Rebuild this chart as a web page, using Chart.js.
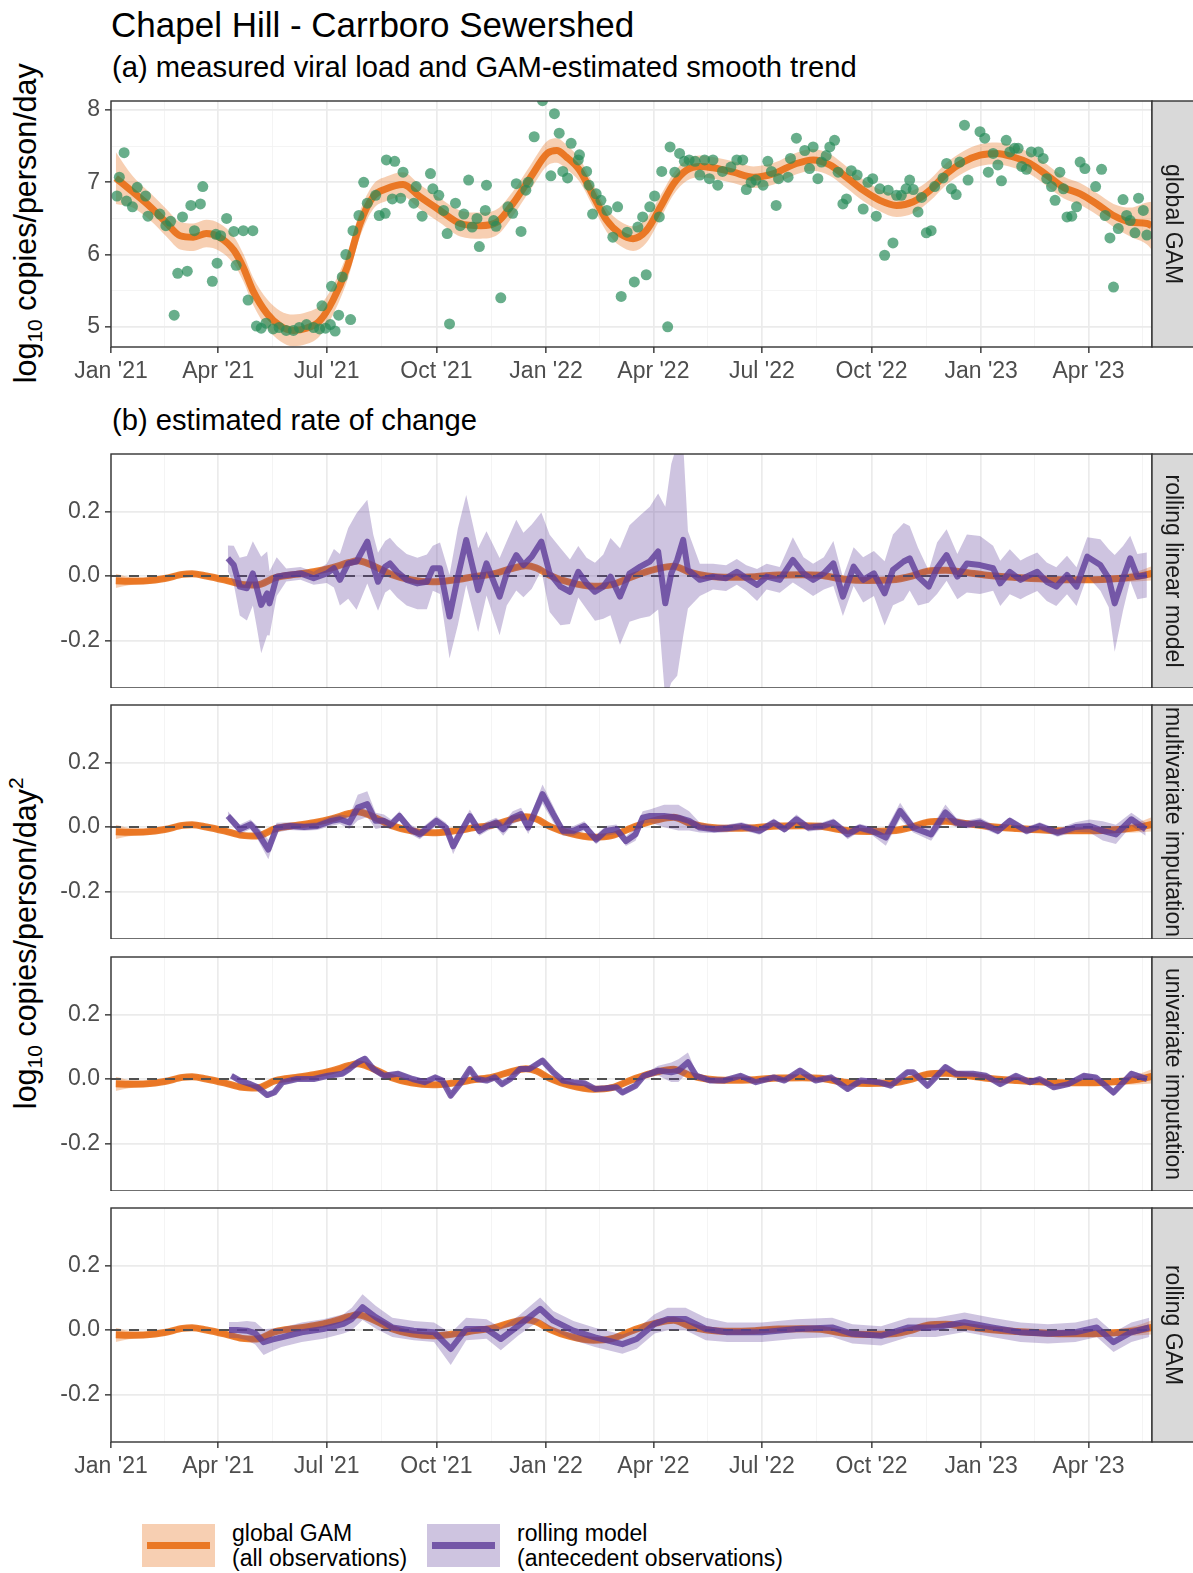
<!DOCTYPE html>
<html>
<head>
<meta charset="utf-8">
<title>Chapel Hill - Carrboro Sewershed</title>
<script src="https://cdn.jsdelivr.net/npm/chart.js@4.4.1/dist/chart.umd.min.js"></script>
<style>
  body { margin: 0; background: #fff; width: 1193px; height: 1573px; position: relative; overflow: hidden;
         font-family: "Liberation Sans", Arial, Helvetica, sans-serif; }
  canvas { position: absolute; left: 0; }
  .t { position: absolute; white-space: nowrap; line-height: 1; color: #000; }
  .yt { position: absolute; width: 600px; text-align: center; white-space: nowrap; line-height: 1;
        font-size: 30.5px; color: #000; transform: rotate(-90deg); transform-origin: 50% 50%; }
  .yt sub { font-size: 21px; vertical-align: -6px; line-height: 0; }
  .yt sup { font-size: 21px; vertical-align: 13px; line-height: 0; }
  .key { position: absolute; width: 73px; height: 43px; }
  .key div { position: absolute; left: 5px; right: 5px; top: 18px; height: 7px; }
  .lt { position: absolute; font-size: 23px; line-height: 25px; color: #000; white-space: nowrap; }
</style>
</head>
<body>

<div class="t" style="left:111px;top:7px;font-size:35px">Chapel Hill - Carrboro Sewershed</div>
<div class="t" style="left:112px;top:53px;font-size:29.2px">(a) measured viral load and GAM-estimated smooth trend</div>
<div class="t" style="left:112px;top:406px;font-size:29.2px">(b) estimated rate of change</div>

<div class="yt" style="left:-275px;top:208px">log<sub>10</sub> copies/person/day</div>
<div class="yt" style="left:-275px;top:928px">log<sub>10</sub> copies/person/day<sup>2</sup></div>

<canvas id="panelA" width="1193" height="300" style="top:91px"></canvas>
<canvas id="panelB1" width="1193" height="244" style="top:444px"></canvas>
<canvas id="panelB2" width="1193" height="244" style="top:695px"></canvas>
<canvas id="panelB3" width="1193" height="244" style="top:947px"></canvas>
<canvas id="panelB4" width="1193" height="288" style="top:1198px"></canvas>

<div class="key" style="left:142px;top:1524px;background:rgba(230,97,1,0.3)"><div style="background:rgba(230,97,1,0.8)"></div></div>
<div class="lt" style="left:232px;top:1521px">global GAM<br>(all observations)</div>
<div class="key" style="left:427px;top:1524px;background:rgba(94,60,153,0.3)"><div style="background:rgba(94,60,153,0.8)"></div></div>
<div class="lt" style="left:517px;top:1521px">rolling model<br>(antecedent observations)</div>

<script>
// days are counted from 2021-01-01

// measured viral load, log10 copies/person/day
const obsDay = [5, 7, 11, 13, 18, 22, 29, 31, 41, 46, 50, 53, 56, 60, 64, 67, 70, 75, 77, 85,
  88, 89, 92, 97, 103, 105, 111, 115, 119, 122, 126, 130, 136, 141, 147, 153, 158, 164, 170, 175,
  177, 180, 184, 185, 188, 191, 194, 197, 201, 203, 208, 212, 215, 222, 225, 230, 231, 236, 238, 243,
  245, 254, 256, 261, 268, 270, 275, 279, 282, 284, 289, 293, 296, 300, 303, 307, 309, 314, 315, 321,
  323, 327, 333, 337, 340, 344, 348, 350, 355, 362, 369, 372, 376, 379, 383, 386, 392, 393, 399, 401,
  404, 407, 411, 416, 421, 425, 428, 433, 439, 442, 446, 449, 452, 456, 460, 462, 467, 469, 473, 477,
  481, 485, 490, 494, 498, 502, 505, 509, 513, 520, 525, 530, 533, 537, 541, 547, 551, 554, 558, 560,
  568, 570, 575, 582, 586, 589, 593, 596, 600, 603, 607, 610, 614, 617, 621, 626, 631, 635, 639, 642,
  645, 649, 652, 656, 659, 663, 667, 670, 673, 677, 680, 684, 688, 691, 698, 701, 705, 709, 712, 716,
  719, 729, 733, 736, 740, 744, 747, 751, 754, 758, 761, 764, 768, 772, 778, 782, 785, 789, 792, 796,
  799, 802, 806, 810, 813, 817, 826, 831, 834, 838, 841, 845, 849, 852, 855, 859, 862, 866, 869];
const obsLoad = [6.81, 7.07, 7.41, 6.74, 6.66, 6.93, 6.81, 6.53, 6.56, 6.40, 6.46, 5.16, 5.74, 6.52, 5.77, 6.68, 6.33, 6.70, 6.94, 5.63,
  6.28, 5.88, 6.26, 6.50, 6.32, 5.85, 6.33, 5.37, 6.33, 5.01, 4.98, 5.05, 4.97, 4.99, 4.95, 4.95, 4.99, 5.03, 4.99, 4.97,
  5.29, 4.98, 5.03, 5.56, 4.94, 5.16, 5.69, 6.00, 5.10, 6.33, 6.54, 7.00, 6.71, 6.82, 6.54, 6.57, 7.31, 6.77, 7.29, 6.78,
  7.14, 6.71, 6.94, 6.53, 7.12, 6.91, 6.82, 6.61, 6.29, 5.04, 6.71, 6.40, 6.56, 7.03, 6.38, 6.50, 6.11, 6.61, 6.96, 6.47,
  6.39, 5.40, 6.66, 6.57, 6.98, 6.32, 6.89, 7.00, 7.63, 8.13, 7.09, 7.95, 7.68, 7.15, 7.06, 7.54, 7.31, 7.38, 7.15, 6.96,
  6.56, 6.84, 6.75, 6.61, 6.24, 6.66, 5.42, 6.31, 5.62, 6.38, 6.52, 5.72, 6.66, 6.81, 6.52, 7.15, 5.00, 7.49, 7.14, 7.40,
  7.29, 7.31, 7.29, 7.10, 7.31, 7.05, 7.31, 6.96, 7.15, 7.21, 7.31, 7.31, 6.90, 7.00, 7.03, 6.96, 7.29, 7.15, 6.68, 7.05,
  7.07, 7.33, 7.61, 7.44, 7.19, 7.49, 7.05, 7.28, 7.37, 7.49, 7.58, 7.14, 6.70, 6.77, 7.16, 7.10, 6.63, 7.00, 7.05, 6.53,
  6.91, 5.99, 6.89, 6.16, 6.82, 6.82, 6.91, 7.03, 6.90, 6.59, 6.79, 6.30, 6.33, 6.94, 7.06, 7.26, 6.91, 6.83, 7.28, 7.79,
  7.03, 7.70, 7.61, 7.14, 7.40, 7.24, 7.02, 7.58, 7.42, 7.47, 7.47, 7.22, 7.18, 7.42, 7.42, 7.33, 7.05, 6.94, 6.75, 7.14,
  6.91, 6.52, 6.53, 6.66, 7.28, 7.19, 6.94, 7.18, 6.54, 6.23, 5.55, 6.36, 6.76, 6.54, 6.47, 6.30, 6.78, 6.61, 6.27];

// global GAM fit and its standard error band
const gamDay = [4, 18, 33, 47, 58, 69, 80, 91, 103, 111, 119, 131, 142, 153, 164, 175, 186, 198, 209, 220,
  231, 245, 259, 276, 293, 310, 324, 337, 352, 366, 374, 382, 393, 405, 416, 427, 438, 449, 461, 472,
  483, 494, 505, 522, 539, 556, 575, 589, 603, 617, 631, 645, 659, 673, 687, 701, 715, 729, 743, 757,
  771, 785, 799, 813, 827, 841, 855, 869, 873];
const gamFit = [7.06, 6.87, 6.66, 6.43, 6.26, 6.24, 6.29, 6.24, 6.06, 5.82, 5.50, 5.18, 5.01, 4.95, 4.98, 5.08, 5.36, 5.82, 6.43, 6.80,
  6.91, 6.97, 6.80, 6.61, 6.43, 6.40, 6.45, 6.70, 7.07, 7.40, 7.44, 7.35, 7.17, 6.80, 6.47, 6.29, 6.22, 6.33, 6.66, 6.98,
  7.17, 7.22, 7.20, 7.14, 7.07, 7.12, 7.26, 7.31, 7.24, 7.07, 6.89, 6.75, 6.68, 6.73, 6.89, 7.12, 7.28, 7.375, 7.40, 7.35,
  7.26, 7.10, 6.93, 6.84, 6.70, 6.54, 6.45, 6.43, 6.40];
const gamSe = [0.36, 0.22, 0.19, 0.19, 0.19, 0.19, 0.19, 0.19, 0.19, 0.19, 0.19, 0.20, 0.21, 0.22, 0.22, 0.21, 0.20, 0.19, 0.18, 0.17,
  0.17, 0.17, 0.17, 0.17, 0.18, 0.18, 0.18, 0.17, 0.17, 0.17, 0.17, 0.17, 0.16, 0.16, 0.16, 0.17, 0.17, 0.17, 0.16, 0.15,
  0.15, 0.15, 0.15, 0.15, 0.15, 0.15, 0.15, 0.15, 0.15, 0.15, 0.15, 0.15, 0.16, 0.16, 0.15, 0.15, 0.15, 0.15, 0.15, 0.15,
  0.15, 0.15, 0.15, 0.15, 0.15, 0.16, 0.20, 0.29, 0.33];

// first derivative of the global GAM
const gamRateDay = [4, 15, 30, 45, 60, 68, 80, 95, 110, 122, 138, 155, 170, 185, 200, 207, 218, 235, 252, 270,
  288, 305, 320, 335, 348, 357, 368, 385, 405, 420, 440, 458, 472, 485, 500, 520, 540, 560, 580, 595,
  615, 635, 655, 672, 685, 700, 715, 735, 760, 790, 820, 845, 860, 873];
const gamRate = [-0.015, -0.016, -0.015, -0.008, 0.005, 0.007, 0.0, -0.012, -0.026, -0.028, -0.005, 0.005, 0.013, 0.025, 0.042, 0.047, 0.035, 0.005, -0.012, -0.018,
  -0.012, -0.002, 0.006, 0.022, 0.032, 0.025, 0.002, -0.020, -0.032, -0.027, 0.002, 0.022, 0.030, 0.012, 0.0, -0.004, -0.002, 0.003, 0.004, 0.002,
  -0.010, -0.014, -0.012, 0.0, 0.015, 0.018, 0.012, 0.002, -0.005, -0.011, -0.012, -0.008, -0.002, 0.008];
const gamRateSe = [0.022, 0.013, 0.009, 0.008, 0.008, 0.008, 0.008, 0.008, 0.008, 0.008, 0.008, 0.008, 0.008, 0.008, 0.008, 0.008, 0.008, 0.008, 0.008, 0.008,
  0.008, 0.008, 0.008, 0.008, 0.008, 0.008, 0.008, 0.008, 0.008, 0.008, 0.008, 0.008, 0.008, 0.008, 0.008, 0.008, 0.008, 0.008, 0.008, 0.008,
  0.008, 0.008, 0.008, 0.008, 0.008, 0.008, 0.008, 0.008, 0.008, 0.008, 0.009, 0.011, 0.015, 0.022];

// rolling linear model
const rollLmDay = [98, 103, 108, 114, 119, 122, 126, 131, 133, 139, 147, 159, 170, 181, 187, 192, 199, 206, 215, 220,
  224, 230, 234, 240, 248, 257, 265, 270, 276, 284, 291, 298, 308, 315, 326, 332, 340, 346, 353, 361,
  368, 377, 385, 392, 399, 406, 413, 419, 427, 435, 444, 452, 459, 465, 470, 475, 480, 484, 494, 505,
  516, 525, 533, 542, 550, 561, 572, 581, 589, 598, 606, 614, 623, 631, 640, 649, 656, 665, 670, 677,
  686, 693, 701, 710, 718, 729, 740, 746, 754, 763, 768, 777, 785, 793, 802, 810, 819, 830, 837, 842,
  849, 855, 861, 869];
const rollLmRate = [0.055, 0.034, -0.033, -0.038, 0.008, -0.033, -0.090, -0.054, -0.085, -0.002, 0.003, 0.008, -0.007, 0.008, 0.024, -0.012, 0.039, 0.045, 0.107, 0.029,
  -0.018, 0.029, 0.039, 0.013, -0.012, -0.023, -0.018, 0.024, 0.024, -0.126, -0.002, 0.112, -0.044, 0.039, -0.064, 0.008, 0.065, 0.034, 0.060, 0.107,
  0.008, -0.033, -0.049, 0.013, -0.023, -0.049, -0.033, -0.002, -0.064, 0.008, 0.029, 0.045, 0.076, -0.085, 0.008, 0.050, 0.112, 0.019, -0.012, -0.002,
  -0.007, 0.013, -0.007, -0.028, -0.002, -0.012, 0.050, 0.008, -0.012, 0.008, 0.039, -0.064, 0.029, -0.012, 0.008, -0.054, 0.019, 0.045, 0.055, -0.002,
  -0.033, 0.024, 0.065, -0.002, 0.039, 0.034, 0.024, -0.023, 0.013, -0.012, -0.002, 0.013, -0.018, -0.033, 0.003, -0.033, 0.060, 0.034, -0.007, -0.085,
  -0.007, 0.055, -0.002, 0.003];
const rollLmSe = [0.04, 0.06, 0.09, 0.10, 0.10, 0.12, 0.15, 0.13, 0.10, 0.06, 0.02, 0.02, 0.02, 0.03, 0.06, 0.08, 0.11, 0.15, 0.13, 0.10,
  0.09, 0.08, 0.08, 0.08, 0.08, 0.08, 0.085, 0.07, 0.08, 0.13, 0.15, 0.14, 0.13, 0.10, 0.12, 0.10, 0.11, 0.10, 0.10, 0.09,
  0.12, 0.12, 0.10, 0.08, 0.08, 0.09, 0.10, 0.12, 0.15, 0.15, 0.16, 0.17, 0.18, 0.30, 0.34, 0.36, 0.30, 0.12, 0.05, 0.04,
  0.04, 0.04, 0.04, 0.05, 0.04, 0.04, 0.07, 0.05, 0.05, 0.05, 0.07, 0.06, 0.06, 0.07, 0.07, 0.10, 0.11, 0.12, 0.10, 0.09,
  0.05, 0.08, 0.08, 0.07, 0.09, 0.09, 0.07, 0.07, 0.07, 0.06, 0.06, 0.06, 0.06, 0.06, 0.06, 0.06, 0.06, 0.08, 0.09, 0.15,
  0.10, 0.07, 0.07, 0.07];

// multivariate imputation
const multiImpDay = [98, 103, 108, 117, 123, 132, 139, 150, 162, 173, 185, 192, 200, 207, 215, 222, 229, 235, 242, 251,
  259, 266, 273, 281, 287, 294, 301, 309, 316, 323, 329, 337, 344, 350, 362, 371, 379, 388, 397, 407,
  415, 424, 432, 440, 446, 452, 464, 476, 485, 494, 506, 517, 529, 544, 556, 565, 575, 585, 597, 606,
  618, 628, 638, 650, 662, 673, 688, 700, 709, 718, 729, 744, 754, 768, 779, 794, 809, 821, 832, 843,
  856, 868];
const multiImpRate = [0.034, 0.014, -0.007, 0.008, -0.018, -0.070, -0.002, 0.003, 0.0, 0.003, 0.019, 0.024, 0.014, 0.060, 0.071, 0.019, 0.019, 0.008, 0.034, -0.007,
  -0.023, -0.002, 0.019, -0.002, -0.060, -0.012, 0.034, -0.012, 0.003, 0.014, -0.007, 0.029, 0.040, -0.002, 0.102, 0.040, -0.012, -0.012, 0.003, -0.039,
  -0.012, -0.007, -0.044, -0.023, 0.029, 0.034, 0.034, 0.029, 0.019, -0.002, -0.007, -0.004, 0.003, -0.012, 0.014, -0.007, 0.024, -0.002, 0.003, 0.014,
  -0.023, -0.002, -0.012, -0.033, 0.050, -0.002, -0.023, 0.045, 0.014, 0.008, 0.014, -0.012, 0.019, -0.012, 0.003, -0.018, 0.0, 0.003, -0.012, -0.023,
  0.024, -0.007];
const multiImpSe = [0.015, 0.015, 0.015, 0.015, 0.02, 0.03, 0.015, 0.012, 0.012, 0.012, 0.015, 0.015, 0.02, 0.04, 0.04, 0.025, 0.02, 0.015, 0.015, 0.015,
  0.015, 0.015, 0.015, 0.015, 0.025, 0.015, 0.02, 0.015, 0.015, 0.015, 0.02, 0.02, 0.02, 0.02, 0.03, 0.025, 0.015, 0.015, 0.015, 0.015,
  0.015, 0.015, 0.015, 0.02, 0.02, 0.02, 0.035, 0.04, 0.03, 0.015, 0.012, 0.012, 0.012, 0.012, 0.012, 0.012, 0.015, 0.012, 0.012, 0.012,
  0.015, 0.012, 0.012, 0.025, 0.025, 0.015, 0.02, 0.025, 0.015, 0.012, 0.015, 0.012, 0.012, 0.012, 0.012, 0.012, 0.015, 0.02, 0.03, 0.03,
  0.02, 0.02];

// univariate imputation
const uniImpDay = [101, 108, 117, 123, 131, 137, 144, 156, 170, 182, 194, 200, 207, 213, 220, 229, 241, 253, 263, 272,
  278, 285, 294, 301, 307, 315, 322, 328, 335, 343, 351, 362, 371, 379, 388, 397, 406, 415, 424, 429,
  440, 447, 452, 459, 470, 476, 484, 491, 503, 514, 528, 541, 556, 565, 578, 591, 604, 618, 629, 644,
  654, 668, 673, 685, 700, 709, 723, 734, 746, 759, 771, 779, 791, 803, 816, 826, 841, 856, 869];
const uniImpRate = [0.010, -0.005, -0.016, -0.026, -0.050, -0.042, -0.010, 0.0, 0.0, 0.010, 0.016, 0.031, 0.052, 0.063, 0.031, 0.010, 0.016, 0.0, -0.010, 0.005,
  -0.005, -0.052, -0.010, 0.031, 0.0, -0.005, 0.005, -0.016, 0.0, 0.031, 0.031, 0.057, 0.021, -0.005, -0.010, -0.013, -0.031, -0.029, -0.026, -0.042,
  -0.021, 0.010, 0.016, 0.026, 0.021, 0.026, 0.052, 0.010, -0.005, -0.005, 0.010, -0.010, 0.005, -0.005, 0.026, -0.005, 0.005, -0.031, -0.005, -0.010,
  -0.021, 0.021, 0.021, -0.021, 0.037, 0.016, 0.016, 0.010, -0.016, 0.010, -0.010, 0.0, -0.026, -0.016, 0.010, 0.005, -0.042, 0.016, 0.0];
const uniImpSe = [0.008, 0.007, 0.007, 0.007, 0.008, 0.008, 0.007, 0.006, 0.006, 0.006, 0.007, 0.008, 0.010, 0.010, 0.008, 0.007, 0.007, 0.006, 0.006, 0.007,
  0.007, 0.010, 0.008, 0.010, 0.007, 0.006, 0.006, 0.007, 0.006, 0.008, 0.008, 0.010, 0.008, 0.006, 0.006, 0.006, 0.007, 0.007, 0.007, 0.008,
  0.008, 0.008, 0.010, 0.015, 0.030, 0.035, 0.030, 0.012, 0.006, 0.006, 0.006, 0.006, 0.006, 0.006, 0.008, 0.006, 0.006, 0.008, 0.006, 0.006,
  0.007, 0.008, 0.008, 0.008, 0.009, 0.007, 0.006, 0.006, 0.007, 0.006, 0.006, 0.006, 0.007, 0.007, 0.007, 0.007, 0.010, 0.010, 0.010];

// rolling GAM
const rollGamDay = [99, 106, 114, 121, 128, 135, 143, 160, 178, 195, 202, 211, 222, 236, 254, 271, 285, 298, 315, 327,
  342, 360, 371, 388, 406, 429, 441, 456, 467, 482, 499, 517, 546, 575, 605, 622, 646, 669, 692, 716,
  739, 763, 786, 809, 827, 841, 856, 871];
const rollGamRate = [0.0, 0.0, -0.002, -0.010, -0.038, -0.030, -0.023, -0.007, 0.003, 0.019, 0.034, 0.071, 0.040, 0.008, -0.002, -0.007, -0.059, 0.003, 0.003, -0.028,
  0.014, 0.066, 0.029, -0.002, -0.023, -0.044, -0.028, 0.019, 0.034, 0.034, 0.003, -0.007, -0.007, 0.003, 0.008, -0.012, -0.018, 0.008, 0.008, 0.024,
  0.008, -0.007, -0.012, -0.007, 0.008, -0.038, -0.007, 0.008];
const rollGamSe = [0.025, 0.025, 0.03, 0.035, 0.04, 0.035, 0.03, 0.03, 0.03, 0.03, 0.035, 0.04, 0.035, 0.03, 0.03, 0.03, 0.05, 0.035, 0.03, 0.035,
  0.03, 0.035, 0.03, 0.03, 0.03, 0.03, 0.03, 0.03, 0.035, 0.035, 0.035, 0.03, 0.03, 0.03, 0.03, 0.03, 0.03, 0.03, 0.03, 0.03,
  0.03, 0.03, 0.03, 0.03, 0.03, 0.03, 0.03, 0.03];

// x axis: quarter breaks and their labels
const tickDates = ['2021-01-01', '2021-04-01', '2021-07-01', '2021-10-01', '2022-01-01',
  '2022-04-01', '2022-07-01', '2022-10-01', '2023-01-01', '2023-04-01', '2023-07-01'];
const tickLabels = ["Jan '21", "Apr '21", "Jul '21", "Oct '21", "Jan '22",
  "Apr '22", "Jul '22", "Oct '22", "Jan '23", "Apr '23", "Jul '23"];

const loadTicks = [5, 6, 7, 8];
const rateTicks = [-0.2, 0, 0.2];
const stripLabels = ['global GAM', 'rolling linear model', 'multivariate imputation', 'univariate imputation', 'rolling GAM'];

// ---------------------------------------------------------------------------

const ORANGE = 'rgba(230,97,1,0.8)', ORANGE_FILL = 'rgba(230,97,1,0.3)';
const PURPLE = 'rgba(94,60,153,0.8)', PURPLE_FILL = 'rgba(94,60,153,0.3)';
const GREEN = 'rgba(40,140,90,0.7)';
const PLOT_LEFT = 111, STRIP_W = 41;
const X_MIN = 0, X_MAX = 873.3;
const FONT = '"Liberation Sans", Arial, Helvetica, sans-serif';

Chart.defaults.font.family = FONT;

const t0 = Date.UTC(2021, 0, 1);
const toDay = s => (Date.parse(s + 'T00:00:00Z') - t0) / 864e5;
const majorDays = tickDates.map(toDay);
const minorDays = majorDays.slice(1).map((d, i) => (d + majorDays[i]) / 2);
const xGrid = majorDays.concat(minorDays).filter(d => d >= X_MIN && d <= X_MAX).sort((a, b) => a - b);

const stripPlugin = {
  id: 'strip',
  afterDraw(chart, args, opts) {
    const { ctx, chartArea: a } = chart;
    const h = a.bottom - a.top;
    ctx.save();
    ctx.strokeStyle = '#333333';
    ctx.lineWidth = 1.4;
    ctx.strokeRect(a.left, a.top, a.right - a.left, h);
    ctx.fillStyle = '#d9d9d9';
    ctx.fillRect(a.right, a.top, chart.width - a.right + 2, h);
    ctx.strokeRect(a.right, a.top, chart.width - a.right + 2, h);
    ctx.beginPath();
    ctx.rect(a.right, a.top, chart.width - a.right, h);
    ctx.clip();
    ctx.translate((a.right + chart.width) / 2, (a.top + a.bottom) / 2);
    ctx.rotate(Math.PI / 2);
    ctx.fillStyle = '#1a1a1a';
    ctx.font = '23px ' + FONT;
    ctx.textAlign = 'center';
    ctx.textBaseline = 'middle';
    ctx.fillText(opts.text, 0, 0);
    ctx.restore();
  }
};

function band(days, mid, se, fill, line, width, smooth, order) {
  const mode = smooth ? 'monotone' : 'default';
  return [
    { data: days.map((d, i) => ({ x: d, y: mid[i] - se[i] })), borderWidth: 0, borderColor: 'transparent',
      pointRadius: 0, fill: false, cubicInterpolationMode: mode, clip: 0, order: order + 2 },
    { data: days.map((d, i) => ({ x: d, y: mid[i] + se[i] })), borderWidth: 0, borderColor: 'transparent',
      pointRadius: 0, fill: '-1', backgroundColor: fill, cubicInterpolationMode: mode, clip: 0, order: order + 1 },
    { data: days.map((d, i) => ({ x: d, y: mid[i] })), borderColor: line, borderWidth: width, pointRadius: 0,
      fill: false, cubicInterpolationMode: mode, borderJoinStyle: 'round', clip: 0, order: order }
  ];
}

function makePanel(id, datasets, y, showX, strip) {
  const majorY = new Set(y.major);
  return new Chart(document.getElementById(id), {
    type: 'line',
    data: { datasets },
    options: {
      responsive: false,
      animation: false,
      devicePixelRatio: 1,
      events: [],
      layout: { padding: { top: 10, right: STRIP_W, left: 0, bottom: 0 } },
      plugins: { legend: { display: false }, tooltip: { enabled: false }, strip: { text: strip } },
      scales: {
        x: {
          type: 'linear', min: X_MIN, max: X_MAX,
          afterBuildTicks: s => { s.ticks = xGrid.map(v => ({ value: v })); },
          afterFit: s => { s.height = showX ? 44 : 0; s.paddingLeft = 0; s.paddingRight = 0; },
          border: { display: false },
          grid: {
            color: c => majorDays.includes(c.tick.value) ? '#ebebeb' : '#f3f3f3',
            lineWidth: c => majorDays.includes(c.tick.value) ? 1.7 : 0.9,
            drawTicks: showX, tickLength: 6, tickWidth: 1.4,
            tickColor: c => majorDays.includes(c.tick.value) ? '#333333' : 'rgba(0,0,0,0)'
          },
          ticks: {
            display: showX, autoSkip: false, maxRotation: 0, padding: 5, color: '#4d4d4d', font: { size: 23 },
            callback: v => { const i = majorDays.indexOf(v); return i >= 0 ? tickLabels[i] : ''; }
          }
        },
        y: {
          type: 'linear', min: y.min, max: y.max,
          afterBuildTicks: s => { s.ticks = y.major.concat(y.minor).sort((a, b) => a - b).map(v => ({ value: v })); },
          afterFit: s => { s.width = PLOT_LEFT; s.paddingTop = 0; s.paddingBottom = 0; },
          border: { display: false },
          grid: {
            color: c => majorY.has(c.tick.value) ? '#ebebeb' : '#f3f3f3',
            lineWidth: c => majorY.has(c.tick.value) ? 1.7 : 0.9,
            tickLength: 6, tickWidth: 1.4,
            tickColor: c => majorY.has(c.tick.value) ? '#333333' : 'rgba(0,0,0,0)'
          },
          ticks: {
            autoSkip: false, padding: 5, color: '#4d4d4d', font: { size: 23 },
            callback: v => majorY.has(v) ? y.fmt(v) : ''
          }
        }
      }
    },
    plugins: [stripPlugin]
  });
}

// (a) observed load with the global GAM
makePanel('panelA',
  band(gamDay, gamFit, gamSe, ORANGE_FILL, ORANGE, 7, true, 3).concat([{
    data: obsDay.map((d, i) => ({ x: d, y: obsLoad[i] })), showLine: false, pointRadius: 5.5,
    pointBackgroundColor: GREEN, pointBorderWidth: 0, clip: 0, order: 1
  }]),
  { min: 4.72, max: 8.125, major: loadTicks, minor: [5.5, 6.5, 7.5], fmt: v => String(v) },
  true, stripLabels[0]);

// (b) rates of change, one facet per rolling model
const rateAxis = { min: -0.348, max: 0.379, major: rateTicks, minor: [], fmt: v => v.toFixed(1) };
const zeroLine = {
  data: [{ x: X_MIN, y: 0 }, { x: X_MAX, y: 0 }], borderColor: '#505050', borderWidth: 1.9,
  borderDash: [10, 8], pointRadius: 0, fill: false, clip: 0, order: 6
};
const rolling = [
  ['panelB1', rollLmDay, rollLmRate, rollLmSe],
  ['panelB2', multiImpDay, multiImpRate, multiImpSe],
  ['panelB3', uniImpDay, uniImpRate, uniImpSe],
  ['panelB4', rollGamDay, rollGamRate, rollGamSe]
];
rolling.forEach(([id, days, rate, se], k) => {
  const sets = band(gamRateDay, gamRate, gamRateSe, ORANGE_FILL, ORANGE, 7, true, 7)
    .concat([Object.assign({}, zeroLine)])
    .concat(band(days, rate, se, PURPLE_FILL, PURPLE, 6, false, 3));
  makePanel(id, sets, rateAxis, k === 3, stripLabels[k + 1]);
});
</script>
</body>
</html>
